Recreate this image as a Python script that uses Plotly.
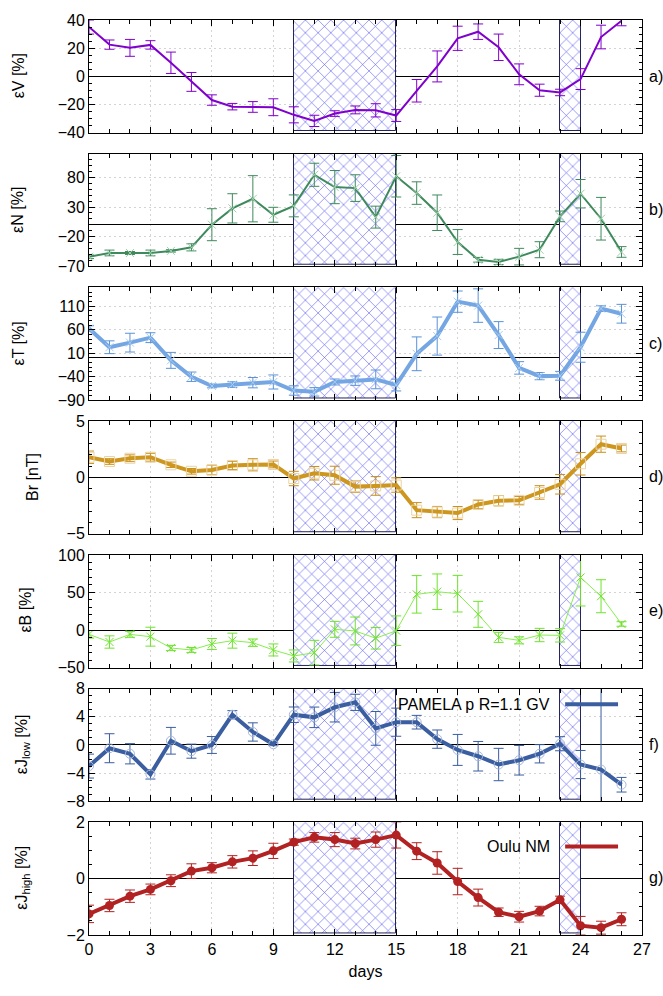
import plotly.graph_objects as go
from plotly.subplots import make_subplots

# Day index shared by all panels
days = list(range(27))

# Solar-wind velocity variation
eps_v = [35, 22.5, 20.2, 22.3, 9.6, -4, -16.9, -21.6, -21.8, -22, -27.4, -31.7, -26.5, -23.9,
         -24.2, -27.9, -10.3, 7, 27, 31.7, 20.6, 1.4, -9.9, -11.5, -2, 27.9, 39.4]
eps_v_err = [5, 3.3, 6, 3, 7.6, 6.7, 3.7, 2.3, 3.8, 6, 5.7, 4, 2, 2.8, 4.7, 4.2, 8, 11, 8.6,
             5.5, 9.4, 7.4, 4.3, 2.3, 7.4, 8.4, 3.5]

# Density variation
eps_n = [-54, -47.5, -47.5, -47.5, -44, -38, 0.2, 27.8, 44, 17, 32, 84.5, 63.7, 62, 13, 82,
         53.6, 20.4, -29, -59, -62.7, -53.7, -42, 14.3, 52.5, 10.3, -45.8]
eps_n_err = [3, 4.8, 2.5, 4.8, 2, 6, 27, 24.7, 39, 12.6, 18.5, 19.5, 28, 22.5, 18.5, 35, 19,
             30, 21, 4, 4.5, 14, 13.5, 9, 24, 36, 9]

# Temperature variation
eps_t = [62.4, 22.6, 32.4, 43, -5.4, -40.3, -60, -57, -53, -51.5, -69.7, -72.5, -51.5, -48.7,
         -46, -58, 8.6, 46.4, 119.8, 111.4, 48.5, -21.5, -39, -38.3, 22.6, 105, 94]
eps_t_err = [6, 13.6, 20, 10.5, 17, 10, 4, 6, 11, 15, 10, 9, 6.3, 10, 20, 12.6, 36, 40.6, 22.7,
             35.7, 28.7, 13.3, 7.7, 9.4, 32, 6, 20]

# Radial IMF component
b_r = [1.8, 1.42, 1.71, 1.8, 1.13, 0.55, 0.67, 1.07, 1.13, 1.16, -0.09, 0.38, 0.2, -0.81,
       -0.75, -0.67, -2.9, -3.07, -3.16, -2.4, -2.06, -2.03, -1.33, -0.6, 1.22, 2.96, 2.58]
b_r_err = [0.55, 0.25, 0.3, 0.35, 0.24, 0.25, 0.42, 0.37, 0.54, 0.3, 0.64, 0.6, 0.8, 0.5, 0.83,
           0.64, 0.67, 0.5, 0.58, 0.38, 0.46, 0.35, 0.6, 0.87, 1.0, 0.72, 0.3]

# IMF magnitude variation
eps_b = [-5.8, -16, -5.8, -8.9, -24, -26.6, -18.6, -14.2, -16.9, -26.6, -34.6, -30.2, 0.9, -1.3,
         -11, -0.9, 47.5, 51, 48.4, 20.9, -9.8, -13.8, -6.7, -7.1, 70, 45, 8]
eps_b_err = [5, 8.2, 4, 12.6, 3.5, 3.3, 7.3, 10, 4.9, 8, 8, 16.4, 10.6, 18.6, 14.4, 19.7, 25,
             23.7, 24.4, 17.3, 6.7, 4.7, 8.9, 8.9, 38, 22, 3]

# PAMELA protons, R = 1.1 GV
eps_j_low = [-3, -0.46, -1.25, -4.17, 0.6, -0.88, 0, 4.3, 1.85, 0.1, 4.3, 3.93, 5.37, 6.06,
             2.36, 3.24, 3.24, 0.83, -0.7, -1.6, -2.78, -2.17, -1.25, 0.18, -2.78, -3.5, -5.65]
eps_j_low_err = [1.7, 2.06, 1.44, 0.67, 1.9, 1.0, 1.2, 0.58, 1.3, 0.2, 1.1, 1.46, 2.1, 1.15,
                 2.4, 2.0, 0.97, 1.3, 2.2, 2.1, 2.3, 2.1, 1.3, 1.0, 2.0, 20, 1.04]

# Oulu neutron monitor
eps_j_high = [-1.25, -0.95, -0.62, -0.38, -0.07, 0.27, 0.39, 0.6, 0.73, 0.99, 1.3, 1.47, 1.39,
              1.25, 1.39, 1.55, 0.98, 0.56, -0.1, -0.67, -1.19, -1.35, -1.15, -0.75, -1.67,
              -1.74, -1.44]
eps_j_high_err = [0.31, 0.22, 0.22, 0.19, 0.21, 0.26, 0.18, 0.22, 0.26, 0.27, 0.11, 0.17, 0.25,
                  0.19, 0.27, 0.46, 0.3, 0.4, 0.47, 0.3, 0.15, 0.19, 0.17, 0.13, 0.33, 0.23, 0.23]

# Shaded intervals (start, end day)
band_start = [10, 23]
band_end = [15, 24]

panel_tags = ["a)", "b)", "c)", "d)", "e)", "f)", "g)"]
y_titles = ["εV [%]", "εN [%]", "εT [%]", "Br [nT]", "εB [%]",
            "εJ<sub>low</sub> [%]", "εJ<sub>high</sub> [%]"]
y_ranges = [[-40, 40], [-70, 120], [-90, 150], [-5, 5], [-50, 100], [-8, 8], [-2, 2]]
y_ticks = [[-40, -20, 0, 20, 40], [-70, -20, 30, 80], [-90, -40, 10, 60, 110],
           [-5, 0, 5], [-50, 0, 50, 100], [-8, -4, 0, 4, 8], [-2, 0, 2]]
y_minor = [5, 10, 10, 1, 10, 1, 0.5]
title_x_px = [18, 18, 18, 33, 25, 22, 22]

series = [
    dict(y=eps_v, e=eps_v_err, color="#8000cc", ecolor="#8000cc", width=2,
         marker=dict(size=1, color="#8000cc")),
    dict(y=eps_n, e=eps_n_err, color="#3f8a5c", ecolor="#3f8a5c", width=2,
         marker=dict(symbol="x-thin-open", size=8, color="#9fd0ad", line=dict(width=1, color="#9fd0ad"))),
    dict(y=eps_t, e=eps_t_err, color="#73a6e2", ecolor="#5a92d8", width=4,
         marker=dict(symbol="x-thin-open", size=8, color="#a9ccf2", line=dict(width=1, color="#a9ccf2"))),
    dict(y=b_r, e=b_r_err, color="#cd961e", ecolor="#c98f1a", width=4,
         marker=dict(symbol="square-open", size=10, color="#ecd3a2", line=dict(width=1, color="#ecd3a2"))),
    dict(y=eps_b, e=eps_b_err, color="#86ee4e", ecolor="#6fe22e", width=1,
         marker=dict(symbol="x-thin-open", size=8, color="#6fe22e", line=dict(width=1, color="#6fe22e"))),
    dict(y=eps_j_low, e=eps_j_low_err, color="#3a5e9f", ecolor="#3a5e9f", width=4,
         marker=dict(symbol="circle-open", size=9, color="#a6b6dc", line=dict(width=1, color="#a6b6dc"))),
    dict(y=eps_j_high, e=eps_j_high_err, color="#b22222", ecolor="#b22222", width=4,
         marker=dict(symbol="circle", size=9, color="#b22222")),
]

W, H = 663, 996
ML, MR, MT, MB = 89, 20, 15, 61
plot_w = W - ML - MR
plot_h = H - MT - MB

fig = make_subplots(rows=7, cols=1, shared_xaxes=True, vertical_spacing=21.3 / plot_h)

band_center = [(s + e) / 2 for s, e in zip(band_start, band_end)]
band_width = [e - s for s, e in zip(band_start, band_end)]

for i, s in enumerate(series):
    row = i + 1
    lo, hi = y_ranges[i]
    span = hi - lo
    base = lo + 0.01 * span
    # cross-hatched intervals
    fig.add_trace(go.Bar(
        x=band_center, y=[hi + span - base] * len(band_center), base=[base] * len(band_center),
        width=band_width,
        marker=dict(color="white", line=dict(color="#26265e", width=1),
                    pattern=dict(shape="x", size=9, solidity=0.12, fgcolor="#3030f0",
                                 fgopacity=0.85, fillmode="overlay")),
        showlegend=False, hoverinfo="skip"), row=row, col=1)
    fig.add_trace(go.Scatter(
        x=days, y=s["y"], mode="lines+markers",
        line=dict(color=s["color"], width=s["width"]),
        marker=s["marker"],
        error_y=dict(type="data", array=s["e"], color=s["ecolor"], thickness=1, width=5),
        showlegend=False), row=row, col=1)

    axis_common = dict(showline=True, linecolor="black", linewidth=1, mirror="ticks",
                       ticks="inside", ticklen=6, tickcolor="black",
                       showgrid=True, gridcolor="#d4d4d4", griddash="2px,3px", gridwidth=1,
                       tickfont=dict(size=16, color="black"))
    fig.update_yaxes(range=y_ranges[i], tickvals=y_ticks[i], zeroline=True,
                     zerolinecolor="black", zerolinewidth=1,
                     minor=dict(dtick=y_minor[i], tick0=0, ticks="inside", ticklen=3,
                                tickcolor="black", showgrid=False),
                     row=row, col=1, **axis_common)
    fig.update_xaxes(range=[0, 27], tickvals=list(range(0, 28, 3)), zeroline=False,
                     minor=dict(dtick=1, ticks="inside", ticklen=4, tickcolor="black",
                                showgrid=False),
                     row=row, col=1, **axis_common)

fig.update_xaxes(title=dict(text="days", font=dict(size=16, color="black"), standoff=8),
                 row=7, col=1)

annotations = []
shapes = []
for i in range(7):
    top_px = MT + i * (113 + 21.3)
    center_px = top_px + 113 / 2
    yc = 1 - (center_px - MT) / plot_h
    annotations.append(dict(text=panel_tags[i], xref="paper", yref="paper",
                            x=1 + 5 / plot_w, y=yc, xanchor="left", yanchor="middle",
                            showarrow=False, font=dict(size=16, color="black")))
    annotations.append(dict(text=y_titles[i], xref="paper", yref="paper",
                            x=(title_x_px[i] - ML) / plot_w, y=yc, textangle=-90,
                            xanchor="center", yanchor="middle", showarrow=False,
                            font=dict(size=16, color="black")))

# key entries for the two cosmic-ray panels
keys = [("PAMELA p R=1.1 GV", "#3a5e9f", 703), ("Oulu NM", "#b22222", 846)]
for text, color, ypx in keys:
    yk = 1 - (ypx - MT) / plot_h
    annotations.append(dict(text=text, xref="paper", yref="paper", x=(553 - ML) / plot_w,
                            y=yk, xanchor="right", yanchor="middle", showarrow=False,
                            font=dict(size=16, color="black")))
    shapes.append(dict(type="line", xref="paper", yref="paper",
                       x0=(566 - ML) / plot_w, x1=(619 - ML) / plot_w, y0=yk, y1=yk,
                       line=dict(color=color, width=4)))

fig.update_layout(width=W, height=H, margin=dict(l=ML, r=MR, t=MT, b=MB),
                  paper_bgcolor="white", plot_bgcolor="white",
                  font=dict(family="Liberation Sans, Arial, sans-serif", size=16, color="black"),
                  annotations=annotations, shapes=shapes, bargap=0, showlegend=False)

fig.write_html("out.html")
